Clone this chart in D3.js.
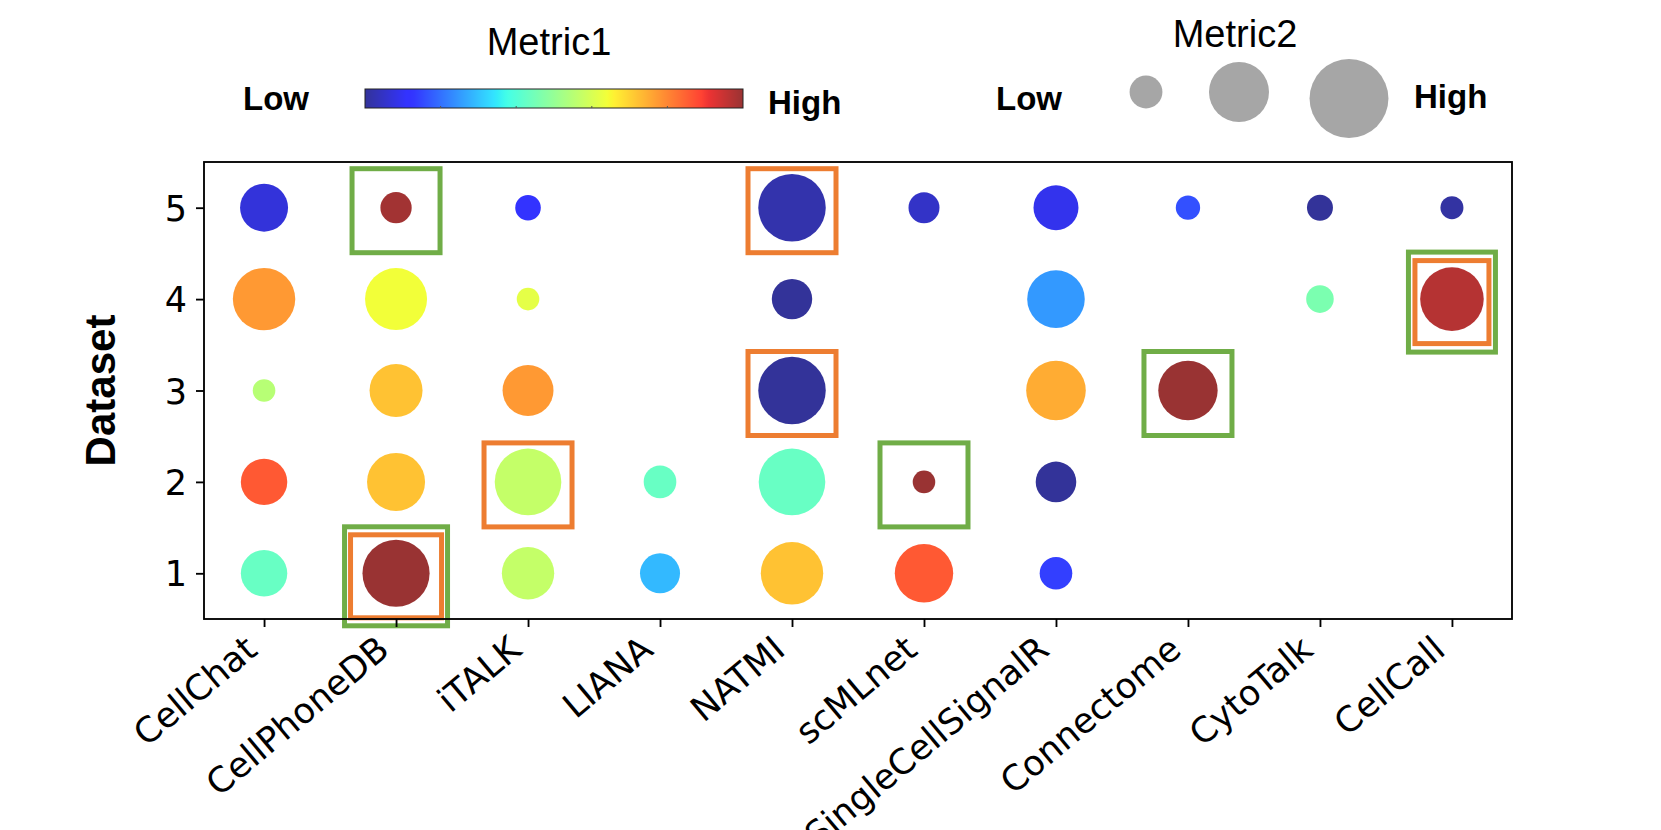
<!DOCTYPE html>
<html>
<head>
<meta charset="utf-8">
<script src="https://cdn.jsdelivr.net/npm/d3@7"></script>
<style>
  body { margin: 0; background: #fff; }
  svg { display: block; }
</style>
</head>
<body>
<div id="graph"></div>
<script>
// methods along x, datasets along y
const methods = ['CellChat', 'CellPhoneDB', 'iTALK', 'LIANA', 'NATMI', 'scMLnet',
                 'SingleCellSignalR', 'Connectome', 'CytoTalk', 'CellCall']
const datasets = [1, 2, 3, 4, 5]

// Metric1 (colour, 0..1 on jet) per dataset, one value per method, null = no dot
const metric1_d1 = [0.43, 1.00, 0.57, 0.29, 0.72, 0.86, 0.14, null, null, null]
const metric1_d2 = [0.86, 0.72, 0.57, 0.43, 0.43, 1.00, 0.00, null, null, null]
const metric1_d3 = [0.55, 0.72, 0.775, null, 0.00, null, 0.75, 1.00, null, null]
const metric1_d4 = [0.775, 0.64, 0.62, null, 0.00, null, 0.25, null, 0.46, 0.97]
const metric1_d5 = [0.07, 0.99, 0.12, null, 0.02, 0.05, 0.09, 0.16, 0.00, 0.01]

// Metric2 (dot size) per dataset
const metric2_d1 = [44, 92, 56, 32.7, 79.5, 69.6, 21.7, null, null, null]
const metric2_d2 = [44, 68.7, 90.5, 21.7, 90.5, 10.4, 33.6, null, null, null]
const metric2_d3 = [10.4, 57.3, 53, null, 93, null, 72.5, 72, null, null]
const metric2_d4 = [79.5, 78.5, 10.4, null, 33.3, null, 67.7, null, 15.5, 82.5]
const metric2_d5 = [47, 20, 13.4, null, 93, 19.6, 41.3, 12.1, 13.8, 10.8]

// highlighted cells: green / orange frames
const highlights = [
  { method: 'CellPhoneDB', dataset: 5, colour: 'green', ring: 'single' },
  { method: 'NATMI', dataset: 5, colour: 'orange', ring: 'single' },
  { method: 'NATMI', dataset: 3, colour: 'orange', ring: 'single' },
  { method: 'iTALK', dataset: 2, colour: 'orange', ring: 'single' },
  { method: 'scMLnet', dataset: 2, colour: 'green', ring: 'single' },
  { method: 'Connectome', dataset: 3, colour: 'green', ring: 'single' },
  { method: 'CellPhoneDB', dataset: 1, colour: 'green', ring: 'outerBig' },
  { method: 'CellPhoneDB', dataset: 1, colour: 'orange', ring: 'innerBig' },
  { method: 'CellCall', dataset: 4, colour: 'green', ring: 'outer' },
  { method: 'CellCall', dataset: 4, colour: 'orange', ring: 'inner' }
]

// legend
const legendSizes = [22, 73.5, 127]
const colorbarTicks = [0.2, 0.4, 0.6, 0.8]

const metric1Rows = [metric1_d1, metric1_d2, metric1_d3, metric1_d4, metric1_d5]
const metric2Rows = [metric2_d1, metric2_d2, metric2_d3, metric2_d4, metric2_d5]

const width = 1661, height = 830
const plot = { left: 204, right: 1512, top: 162, bottom: 619 }
const boxColour = { green: '#70ad47', orange: '#ed7d31' }
const ringSize = {
  single: [88, 84], outerBig: [103, 99], innerBig: [91, 83],
  outer: [87, 100], inner: [74, 83]
}

// matplotlib jet
const jetR = d3.scaleLinear().domain([0, 0.35, 0.66, 0.89, 1]).range([0, 0, 1, 1, 0.5]).clamp(true)
const jetG = d3.scaleLinear().domain([0, 0.125, 0.375, 0.64, 0.91, 1]).range([0, 0, 1, 1, 0, 0]).clamp(true)
const jetB = d3.scaleLinear().domain([0, 0.11, 0.34, 0.65, 1]).range([0.5, 1, 1, 0, 0]).clamp(true)
const jet = (t) => d3.rgb(255 * jetR(t), 255 * jetG(t), 255 * jetB(t)).formatHex()

const svg = d3.select('#graph')
  .append('svg')
  .attr('width', width)
  .attr('height', height)

const x = d3.scalePoint().domain(methods).range([plot.left, plot.right]).padding(0.455)
const y = d3.scaleLinear().domain([0.5, 5.5]).range([plot.bottom, plot.top])
const r = d3.scaleSqrt().domain([0, 100]).range([0, 35])

// flatten the rows into dots
const nodes = []
datasets.forEach((ds, i) => {
  methods.forEach((m, j) => {
    const c = metric1Rows[i][j], s = metric2Rows[i][j]
    if (c !== null && s !== null) nodes.push({ method: m, dataset: ds, metric1: c, metric2: s })
  })
})

const g = svg.append('g')

g.selectAll('circle.dot')
  .data(nodes)
  .enter().append('circle')
  .attr('class', 'dot')
  .attr('cx', d => x(d.method))
  .attr('cy', d => y(d.dataset))
  .attr('r', d => r(d.metric2))
  .style('fill', d => jet(d.metric1))
  .style('fill-opacity', 0.8)

// frames
g.selectAll('rect.hl')
  .data(highlights)
  .enter().append('rect')
  .attr('class', 'hl')
  .attr('x', d => x(d.method) - ringSize[d.ring][0] / 2)
  .attr('y', d => y(d.dataset) + 3 - ringSize[d.ring][1] / 2)
  .attr('width', d => ringSize[d.ring][0])
  .attr('height', d => ringSize[d.ring][1])
  .attr('fill', 'none')
  .attr('stroke', d => boxColour[d.colour])
  .attr('stroke-width', 5)

// axes
const fs = 35
const xAxis = svg.append('g')
  .attr('transform', 'translate(0,' + plot.bottom + ')')
  .call(d3.axisBottom(x).tickSize(8).tickSizeOuter(0).tickFormat(''))
const yAxis = svg.append('g')
  .attr('transform', 'translate(' + plot.left + ',0)')
  .call(d3.axisLeft(y).tickValues(datasets).tickSize(8).tickSizeOuter(0).tickPadding(9).tickFormat(d3.format('d')))

svg.selectAll('.domain').remove()
svg.selectAll('.tick line').attr('stroke', '#000').attr('stroke-width', 1.85)
yAxis.selectAll('.tick text')
  .attr('font-family', 'DejaVu Sans')
  .attr('font-size', fs)
  .attr('fill', '#000')
  .attr('dy', '0.36em')

// rotated method labels (40 deg, right end under the tick)
const hBox = fs * 1.164
const rot = 40
xAxis.selectAll('.tick').each(function (d) {
  d3.select(this).append('text')
    .attr('transform', 'translate(0,' + (9 + hBox * Math.cos(rot * Math.PI / 180)) + ') rotate(' + (-rot) + ')')
    .attr('text-anchor', 'end')
    .attr('dy', '-0.236em')
    .attr('font-family', 'DejaVu Sans')
    .attr('font-size', fs)
    .attr('fill', '#000')
    .text(d)
})

svg.append('rect')
  .attr('x', plot.left).attr('y', plot.top)
  .attr('width', plot.right - plot.left).attr('height', plot.bottom - plot.top)
  .attr('fill', 'none').attr('stroke', '#000').attr('stroke-width', 1.85)

svg.append('text')
  .attr('transform', 'translate(115,' + ((plot.top + plot.bottom) / 2) + ') rotate(-90)')
  .attr('text-anchor', 'middle')
  .attr('font-family', 'Liberation Sans, Arial, sans-serif')
  .attr('font-weight', 'bold')
  .attr('font-size', 42)
  .text('Dataset')

// ---- Metric1 legend ----
const cb = { x0: 365, x1: 743, y0: 89, y1: 108 }
const grad = svg.append('defs').append('linearGradient').attr('id', 'jetgrad')
d3.range(0, 1.0001, 0.01).forEach(t => {
  grad.append('stop').attr('offset', t).attr('stop-color', jet(t)).attr('stop-opacity', 0.8)
})
const cbx = d3.scaleLinear().domain([0, 1]).range([cb.x0, cb.x1])
svg.append('rect')
  .attr('x', cb.x0).attr('y', cb.y0)
  .attr('width', cb.x1 - cb.x0).attr('height', cb.y1 - cb.y0)
  .attr('fill', 'url(#jetgrad)')
  .attr('stroke', '#222').attr('stroke-width', 1)
svg.selectAll('line.cbtick')
  .data(colorbarTicks)
  .enter().append('line')
  .attr('x1', d => cbx(d)).attr('x2', d => cbx(d))
  .attr('y1', cb.y1 - 2).attr('y2', cb.y1)
  .attr('stroke', '#555').attr('stroke-width', 1)

const legText = (tx, ty, txt, size, bold, anchor) => svg.append('text')
  .attr('x', tx).attr('y', ty)
  .attr('text-anchor', anchor || 'start')
  .attr('font-family', 'Liberation Sans, Arial, sans-serif')
  .attr('font-weight', bold ? 'bold' : 'normal')
  .attr('font-size', size)
  .text(txt)

legText(549, 55, 'Metric1', 38, false, 'middle')
legText(243, 110, 'Low', 33, true)
legText(768, 114, 'High', 33, true)

// ---- Metric2 legend ----
legText(1235, 47, 'Metric2', 38, false, 'middle')
legText(996, 110, 'Low', 33, true)
legText(1414, 108, 'High', 33, true)

const legCx = [1146, 1239, 1349]
const legCy = [92, 92, 98.5]
svg.selectAll('circle.leg')
  .data(legendSizes)
  .enter().append('circle')
  .attr('class', 'leg')
  .attr('cx', (d, i) => legCx[i])
  .attr('cy', (d, i) => legCy[i])
  .attr('r', d => r(d))
  .attr('fill', '#a6a6a6')
</script>
</body>
</html>
